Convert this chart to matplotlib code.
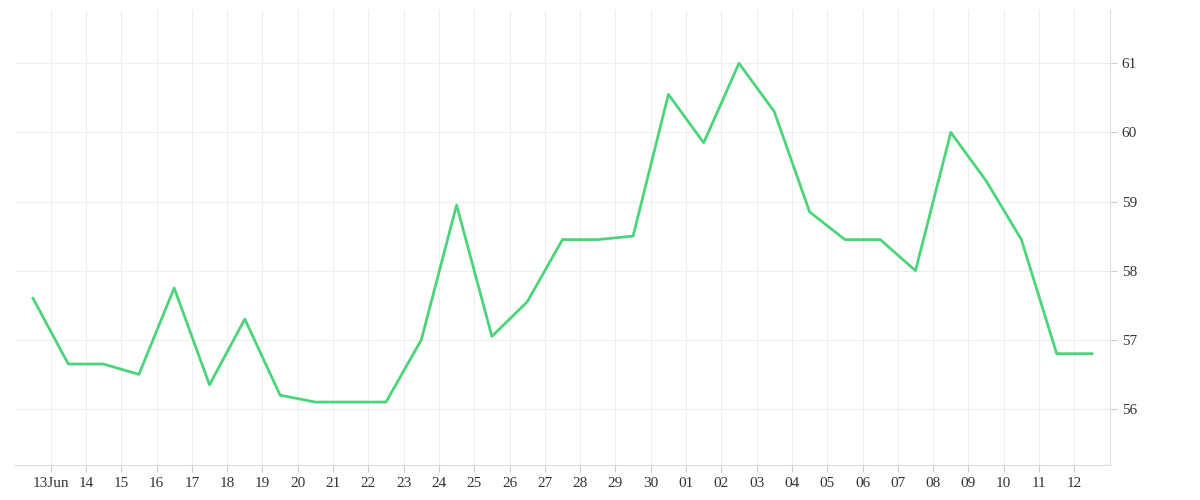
import matplotlib
matplotlib.use("Agg")
import matplotlib.pyplot as plt
import datetime as dt

start = dt.datetime(2023, 6, 12, 12)
values = [57.6, 56.65, 56.65, 56.5, 57.75, 56.35, 57.3, 56.2, 56.1, 56.1, 56.1,
          57.0, 58.95, 57.05, 57.55, 58.45, 58.45, 58.5, 60.55, 59.85, 61.0,
          60.3, 58.85, 58.45, 58.45, 58.0, 60.0, 59.3, 58.45, 56.8, 56.8]
dates = [start + dt.timedelta(days=i) for i in range(len(values))]
yticks = [56, 57, 58, 59, 60, 61]

plt.rcParams['font.family'] = ['Liberation Serif', 'DejaVu Serif']
fig = plt.figure(figsize=(12, 5), dpi=100)
ax = fig.add_axes([0.0125, 0.07, 0.9125, 0.91])
ax.plot(dates, values, color='#4cd47a', lw=2)
ax.set_xlim(start - dt.timedelta(days=0.51), dates[-1] + dt.timedelta(days=0.51))
ax.set_ylim(55.19, 61.77)
ax.yaxis.tick_right()
ax.set_yticks(yticks)
ticks = [dt.datetime(2023, 6, 13) + dt.timedelta(days=i) for i in range(30)]
ax.set_xticks(ticks)
ax.set_xticklabels(['13Jun' if t.day == 13 and t.month == 6 else t.strftime('%d') for t in ticks])
ax.grid(True, color='#eeeeee', lw=0.8)
for s in ['top', 'left']:
    ax.spines[s].set_visible(False)
ax.spines['bottom'].set_color('#dddddd')
ax.spines['right'].set_color('#dddddd')
ax.tick_params(colors='#333333', labelsize=11, length=5)
ax.tick_params(axis='x', color='#cccccc')
ax.tick_params(axis='y', color='#cccccc')
fig.savefig('out.png')
